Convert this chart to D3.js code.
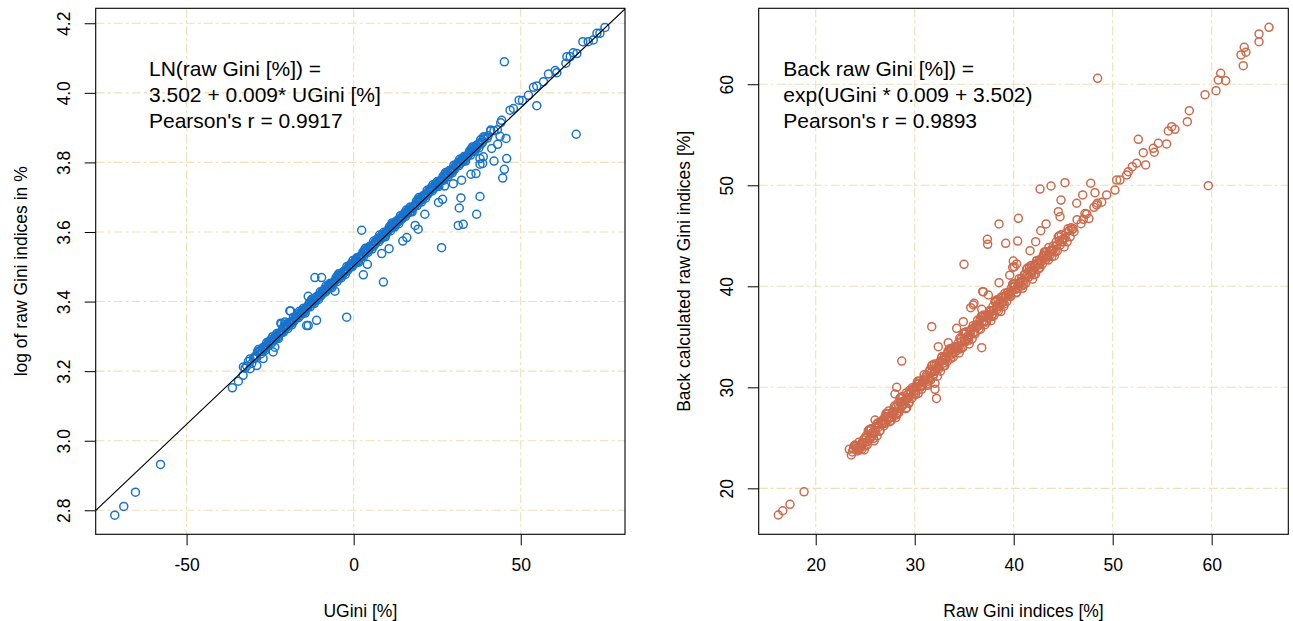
<!DOCTYPE html>
<html>
<head>
<meta charset="utf-8">
<script src="https://cdn.jsdelivr.net/npm/d3@7"></script>
<style>
  body { margin: 0; background: #fff; }
  svg { display: block; font-family: "Liberation Sans", Arial, Helvetica, sans-serif; }
</style>
</head>
<body>
<svg id="chart" width="1293" height="621"></svg>
<script>
// ---- data ----

// left panel: [UGini %, log raw Gini] - dense core band
const leftBandA = [
  [-33,3.212],[-32,3.215],[-31,3.235],[-30,3.236],[-29,3.239],[-28,3.259],[-27,3.262],[-26,3.282],
  [-25,3.285],[-24,3.288],[-23,3.308],[-22,3.309],[-21,3.312],[-20,3.332],[-19,3.335],[-18,3.355],
  [-17,3.357],[-16,3.360],[-15,3.381],[-14,3.382],[-13,3.385],[-12,3.405],[-11,3.408],[-10,3.428],
  [-9,3.430],[-8,3.433],[-7,3.453],[-6,3.454],[-5,3.457],[-4,3.478],[-3,3.481],[-2,3.501],
  [-1,3.503],[0,3.506],[1,3.526],[2,3.527],[3,3.530],[4,3.551],[5,3.554],[6,3.574],
  [7,3.576],[8,3.579],[9,3.599],[10,3.600],[11,3.603],[12,3.624],[13,3.627],[14,3.647],
  [15,3.649],[16,3.652],[17,3.672],[18,3.673],[19,3.676],[20,3.697],[21,3.700],[22,3.720],
  [23,3.722],[24,3.725],[25,3.745],[26,3.746],[27,3.749],[28,3.769],[29,3.772],[30,3.792],
  [31,3.794],[32,3.797],[33,3.817],[34,3.818],[35,3.821],[36,3.842],[37,3.845],[38,3.865],
  [39,3.867],[40,3.870],[41,3.890],[42,3.891],[43,3.894],[44,3.914]
];
const leftBandB = [
  [-32.5,3.208],[-31.5,3.228],[-30.5,3.222],[-29.5,3.242],[-28.5,3.262],[-27.5,3.257],[-26.5,3.260],
  [-25.5,3.281],[-24.5,3.281],[-23.5,3.301],[-22.5,3.294],[-21.5,3.314],[-20.5,3.335],[-19.5,3.330],
  [-18.5,3.333],[-17.5,3.354],[-16.5,3.354],[-15.5,3.374],[-14.5,3.367],[-13.5,3.387],[-12.5,3.407],
  [-11.5,3.402],[-10.5,3.406],[-9.5,3.427],[-8.5,3.427],[-7.5,3.447],[-6.5,3.440],[-5.5,3.460],
  [-4.5,3.480],[-3.5,3.475],[-2.5,3.478],[-1.5,3.499],[-0.5,3.500],[0.5,3.520],[1.5,3.513],
  [2.5,3.533],[3.5,3.553],[4.5,3.548],[5.5,3.551],[6.5,3.572],[7.5,3.572],[8.5,3.592],[9.5,3.586],
  [10.5,3.606],[11.5,3.626],[12.5,3.621],[13.5,3.624],[14.5,3.645],[15.5,3.645],[16.5,3.665],
  [17.5,3.658],[18.5,3.678],[19.5,3.699],[20.5,3.694],[21.5,3.697],[22.5,3.718],[23.5,3.718],
  [24.5,3.738],[25.5,3.731],[26.5,3.751],[27.5,3.771],[28.5,3.766],[29.5,3.770],[30.5,3.791],
  [31.5,3.791],[32.5,3.811],[33.5,3.804],[34.5,3.824],[35.5,3.844],[36.5,3.839],[37.5,3.842],
  [38.5,3.863]
];
const leftBandC = [
  [-29.75,3.238],[-28.75,3.256],[-27.75,3.250],[-26.75,3.270],[-25.75,3.272],[-24.75,3.291],
  [-23.75,3.295],[-22.75,3.297],[-21.75,3.311],[-20.75,3.329],[-19.75,3.322],[-18.75,3.342],
  [-17.75,3.345],[-16.75,3.364],[-15.75,3.368],[-14.75,3.370],[-13.75,3.384],[-12.75,3.402],
  [-11.75,3.395],[-10.75,3.415],[-9.75,3.417],[-8.75,3.436],[-7.75,3.441],[-6.75,3.443],
  [-5.75,3.457],[-4.75,3.475],[-3.75,3.468],[-2.75,3.488],[-1.75,3.490],[-0.75,3.509],
  [0.25,3.513],[1.25,3.515],[2.25,3.530],[3.25,3.548],[4.25,3.541],[5.25,3.561],[6.25,3.563],
  [7.25,3.582],[8.25,3.586],[9.25,3.588],[10.25,3.602],[11.25,3.620],[12.25,3.614],[13.25,3.634],
  [14.25,3.636],[15.25,3.655],[16.25,3.659],[17.25,3.661],[18.25,3.675],[19.25,3.693],[20.25,3.686],
  [21.25,3.706],[22.25,3.709],[23.25,3.728],[24.25,3.732],[25.25,3.734],[26.25,3.748],[27.25,3.766],
  [28.25,3.759],[29.25,3.779],[30.25,3.781],[31.25,3.800],[32.25,3.805],[33.25,3.807],[34.25,3.821],
  [35.25,3.839],[36.25,3.832],[37.25,3.852],[38.25,3.854],[39.25,3.873],[40.25,3.877]
];
const leftBandD = [
  [-27.25,3.267],[-26.25,3.268],[-25.25,3.282],[-24.25,3.299],[-23.25,3.293],[-22.25,3.308],
  [-21.25,3.324],[-20.25,3.324],[-19.25,3.340],[-18.25,3.341],[-17.25,3.355],[-16.25,3.372],
  [-15.25,3.366],[-14.25,3.380],[-13.25,3.396],[-12.25,3.397],[-11.25,3.413],[-10.25,3.414],
  [-9.25,3.428],[-8.25,3.445],[-7.25,3.439],[-6.25,3.453],[-5.25,3.469],[-4.25,3.469],
  [-3.25,3.485],[-2.25,3.487],[-1.25,3.501],[-0.25,3.518],[0.75,3.512],[1.75,3.526],
  [2.75,3.542],[3.75,3.542],[4.75,3.558],[5.75,3.559],[6.75,3.573],[7.75,3.591],[8.75,3.585],
  [9.75,3.599],[10.75,3.615],[11.75,3.615],[12.75,3.631],[13.75,3.632],[14.75,3.646],[15.75,3.663],
  [16.75,3.657],[17.75,3.672],[18.75,3.688],[19.75,3.688],[20.75,3.704],[21.75,3.705],[22.75,3.719],
  [23.75,3.736],[24.75,3.730],[25.75,3.744],[26.75,3.760],[27.75,3.761],[28.75,3.777],[29.75,3.778],
  [30.75,3.792],[31.75,3.809],[32.75,3.803],[33.75,3.817],[34.75,3.833],[35.75,3.833],[36.75,3.849]
];
const leftBandE = [
  [-29.4,3.243],[-28.4,3.255],[-27.4,3.258],[-26.4,3.271],[-25.4,3.284],[-24.4,3.286],[-23.4,3.297],
  [-22.4,3.309],[-21.4,3.312],[-20.4,3.325],[-19.4,3.339],[-18.4,3.341],[-17.4,3.352],[-16.4,3.364],
  [-15.4,3.367],[-14.4,3.380],[-13.4,3.393],[-12.4,3.395],[-11.4,3.406],[-10.4,3.418],[-9.4,3.422],
  [-8.4,3.435],[-7.4,3.448],[-6.4,3.450],[-5.4,3.461],[-4.4,3.473],[-3.4,3.476],[-2.4,3.489],
  [-1.4,3.502],[-0.4,3.504],[0.6,3.516],[1.6,3.528],[2.6,3.531],[3.6,3.544],[4.6,3.557],[5.6,3.559],
  [6.6,3.570],[7.6,3.582],[8.6,3.585],[9.6,3.598],[10.6,3.612],[11.6,3.614],[12.6,3.625],[13.6,3.637],
  [14.6,3.640],[15.6,3.653],[16.6,3.666],[17.6,3.668],[18.6,3.679],[19.6,3.691],[20.6,3.695],
  [21.6,3.708],[22.6,3.721],[23.6,3.723],[24.6,3.734],[25.6,3.746],[26.6,3.749],[27.6,3.762],
  [28.6,3.775],[29.6,3.777],[30.6,3.789],[31.6,3.801],[32.6,3.804],[33.6,3.817],[34.6,3.830],
  [35.6,3.832],[36.6,3.843],[37.6,3.855],[38.6,3.858]
];
// left panel: scattered points and tails
const leftSparse = [
  [-71.5,2.786],[-68.8,2.811],[-65.3,2.852],[-57.8,2.932],[-36.3,3.152],[-34.5,3.171],[-33.1,3.188],
  [-31.0,3.207],[-29.0,3.216],[-27.1,3.236],[-24.1,3.255],[-23.6,3.269],[-21.6,3.336],[-18.9,3.373],
  [-13.6,3.331],[-11.1,3.346],[-14.1,3.331],[-2.1,3.355],[-21.8,3.338],[-20.6,3.341],[-19.1,3.373],
  [-13.6,3.415],[-11.6,3.469],[-9.6,3.469],[-5.6,3.430],[2.4,3.605],[2.9,3.477],[4.1,3.507],
  [8.4,3.538],[8.9,3.456],[10.6,3.552],[14.7,3.574],[15.9,3.584],[18.4,3.619],[19.3,3.608],
  [21.3,3.651],[25.4,3.685],[26.6,3.694],[26.3,3.555],[27.2,3.732],[29.8,3.739],[31.3,3.619],
  [32.8,3.622],[31.6,3.669],[32.1,3.698],[32.3,3.749],[35.1,3.766],[36.6,3.768],[36.8,3.651],
  [37.8,3.702],[37.8,3.795],[38.6,3.797],[37.8,3.811],[38.8,3.816],[41.3,3.840],[42.0,3.804],
  [43.1,3.852],[43.8,3.875],[45.6,3.869],[45.8,3.811],[45.1,3.780],[44.6,3.755],[45.1,4.089],
  [54.8,3.963],[66.6,3.881],
  [38.8,3.873],[41.0,3.893],[44.3,3.921],[46.8,3.950],[47.8,3.955],[49.5,3.979],[50.5,3.978],
  [52.3,3.993],[53.8,4.016],[54.8,4.020],[56.8,4.032],[58.3,4.054],[60.8,4.058],[60.3,4.064],
  [63.5,4.085],[63.8,4.104],[65.7,4.115],[66.8,4.113],[64.8,4.104],[68.6,4.147],[70.2,4.147],
  [71.7,4.152],[72.8,4.171],[73.7,4.171],[75.2,4.188]
];

// right panel: [raw Gini %, back calculated raw Gini %]
const rightBandA = [
  [23.6,23.3],[24.0,24.2],[24.4,23.8],[24.8,24.8],[25.2,24.3],[25.6,25.9],[26.0,25.6],[26.4,26.3],
  [26.8,26.5],[27.2,27.4],[27.6,27.0],[28.0,28.0],[28.4,27.5],[28.8,29.1],[29.2,28.8],[29.6,29.5],
  [30.0,29.7],[30.4,30.6],[30.8,30.2],[31.2,31.2],[31.6,30.7],[32.0,32.3],[32.4,32.0],[32.8,32.7],
  [33.2,32.9],[33.6,33.8],[34.0,33.4],[34.4,34.4],[34.8,33.9],[35.2,35.5],[35.6,35.2],[36.0,35.9],
  [36.4,36.1],[36.8,37.0],[37.2,36.6],[37.6,37.6],[38.0,37.1],[38.4,38.7],[38.8,38.4],[39.2,39.1],
  [39.6,39.3],[40.0,40.2],[40.4,39.8],[40.8,40.8],[41.2,40.3],[41.6,41.9],[42.0,41.6],[42.4,42.3],
  [42.8,42.5],[43.2,43.4],[43.6,43.0],[44.0,44.0],[44.4,43.5],[44.8,45.1],[45.2,44.8],[45.6,45.5],
  [46.0,45.7],[46.4,46.6],[46.8,46.2],[47.2,47.2],[47.6,46.7]
];
const rightBandB = [
  [23.8,23.9],[24.2,23.7],[24.6,24.4],[25.0,24.2],[25.4,25.8],[25.8,25.5],[26.2,25.2],[26.6,26.6],
  [27.0,27.1],[27.4,26.9],[27.8,27.6],[28.2,27.4],[28.6,29.0],[29.0,28.7],[29.4,28.4],[29.8,29.8],
  [30.2,30.3],[30.6,30.1],[31.0,30.8],[31.4,30.6],[31.8,32.2],[32.2,31.9],[32.6,31.6],[33.0,33.0],
  [33.4,33.5],[33.8,33.3],[34.2,34.0],[34.6,33.8],[35.0,35.4],[35.4,35.1],[35.8,34.8],[36.2,36.2],
  [36.6,36.7],[37.0,36.5],[37.4,37.2],[37.8,37.0],[38.2,38.6],[38.6,38.3],[39.0,38.0],[39.4,39.4],
  [39.8,39.9],[40.2,39.7],[40.6,40.4],[41.0,40.2],[41.4,41.8],[41.8,41.5],[42.2,41.2],[42.6,42.6],
  [43.0,43.1],[43.4,42.9],[43.8,43.6],[44.2,43.4],[44.6,45.0],[45.0,44.7],[45.4,44.4],[45.8,45.8]
];
const rightBandC = [
  [23.7,23.6],[24.1,24.2],[24.5,24.3],[24.9,23.8],[25.3,25.7],[25.7,25.2],[26.1,26.1],[26.5,25.7],
  [26.9,26.2],[27.3,27.4],[27.7,27.5],[28.1,27.0],[28.5,28.9],[28.9,28.4],[29.3,29.3],[29.7,28.9],
  [30.1,29.4],[30.5,30.6],[30.9,30.7],[31.3,30.2],[31.7,32.1],[32.1,31.6],[32.5,32.5],[32.9,32.1],
  [33.3,32.6],[33.7,33.8],[34.1,33.9],[34.5,33.4],[34.9,35.3],[35.3,34.8],[35.7,35.7],[36.1,35.3],
  [36.5,35.8],[36.9,37.0],[37.3,37.1],[37.7,36.6],[38.1,38.5],[38.5,38.0],[38.9,38.9],[39.3,38.5],
  [39.7,39.0],[40.1,40.2],[40.5,40.3],[40.9,39.8],[41.3,41.7],[41.7,41.2],[42.1,42.1],[42.5,41.7],
  [42.9,42.2],[43.3,43.4],[43.7,43.5],[44.1,43.0],[44.5,44.9],[44.9,44.4],[45.3,45.3],[45.7,44.9],
  [46.1,45.4]
];
const rightBandD = [
  [23.9,24.2],[24.3,23.9],[24.7,24.3],[25.1,25.2],[25.5,24.9],[25.9,24.7],[26.3,26.5],[26.7,26.4],
  [27.1,27.4],[27.5,26.6],[27.9,27.5],[28.3,28.4],[28.7,28.1],[29.1,27.9],[29.5,29.7],[29.9,29.6],
  [30.3,30.6],[30.7,29.8],[31.1,30.7],[31.5,31.6],[31.9,31.3],[32.3,31.1],[32.7,32.9],[33.1,32.8],
  [33.5,33.8],[33.9,33.0],[34.3,33.9],[34.7,34.8],[35.1,34.5],[35.5,34.3],[35.9,36.1],[36.3,36.0],
  [36.7,37.0],[37.1,36.2],[37.5,37.1],[37.9,38.0],[38.3,37.7],[38.7,37.5],[39.1,39.3],[39.5,39.2],
  [39.9,40.2],[40.3,39.4],[40.7,40.3],[41.1,41.2],[41.5,40.9],[41.9,40.7],[42.3,42.5],[42.7,42.4],
  [43.1,43.4],[43.5,42.6],[43.9,43.5],[44.3,44.4],[44.7,44.1],[45.1,43.9],[45.5,45.7],[45.9,45.6]
];
const rightBandE = [
  [24.2,24.0],[24.5,24.1],[24.8,24.5],[25.1,25.0],[25.4,24.9],[25.7,25.5],[26.0,25.6],[26.3,26.0],
  [26.6,26.5],[26.9,26.4],[27.2,27.0],[27.5,27.1],[27.8,27.5],[28.1,28.0],[28.4,27.9],[28.7,28.5],
  [29.0,28.6],[29.3,29.0],[29.6,29.5],[29.9,29.4],[30.2,30.0],[30.5,30.1],[30.8,30.5],[31.1,31.0],
  [31.4,30.9],[31.7,31.5],[32.0,31.6],[32.3,32.0],[32.6,32.5],[32.9,32.4],[33.2,33.0],[33.5,33.1],
  [33.8,33.5],[34.1,34.0],[34.4,33.9],[34.7,34.5],[35.0,34.6],[35.3,35.0],[35.6,35.5],[35.9,35.4],
  [36.2,36.0],[36.5,36.1],[36.8,36.5],[37.1,37.0],[37.4,36.9],[37.7,37.5],[38.0,37.6],[38.3,38.0],
  [38.6,38.5],[38.9,38.4],[39.2,39.0],[39.5,39.1],[39.8,39.5],[40.1,40.0],[40.4,39.9],[40.7,40.5],
  [41.0,40.6],[41.3,41.0],[41.6,41.5],[41.9,41.4],[42.2,42.0],[42.5,42.1],[42.8,42.5],[43.1,43.0],
  [43.4,42.9],[43.7,43.5],[44.0,43.6],[44.3,44.0],[44.6,44.5],[44.9,44.4]
];
const rightBandF = [
  [24.35,24.55],[24.65,23.85],[24.95,24.95],[25.25,24.65],[25.55,25.85],[25.85,24.95],[26.15,26.35],
  [26.45,25.65],[26.75,26.75],[27.05,26.45],[27.35,27.65],[27.65,26.75],[27.95,28.15],[28.25,27.45],
  [28.55,28.55],[28.85,28.25],[29.15,29.45],[29.45,28.55],[29.75,29.95],[30.05,29.25],[30.35,30.35],
  [30.65,30.05],[30.95,31.25],[31.25,30.35],[31.55,31.75],[31.85,31.05],[32.15,32.15],[32.45,31.85],
  [32.75,33.05],[33.05,32.15],[33.35,33.55],[33.65,32.85],[33.95,33.95],[34.25,33.65],[34.55,34.85],
  [34.85,33.95],[35.15,35.35],[35.45,34.65],[35.75,35.75],[36.05,35.45],[36.35,36.65],[36.65,35.75],
  [36.95,37.15],[37.25,36.45],[37.55,37.55],[37.85,37.25],[38.15,38.45],[38.45,37.55],[38.75,38.95],
  [39.05,38.25],[39.35,39.35],[39.65,39.05],[39.95,40.25],[40.25,39.35],[40.55,40.75],[40.85,40.05],
  [41.15,41.15],[41.45,40.85],[41.75,42.05],[42.05,41.15],[42.35,42.55],[42.65,41.85],[42.95,42.95],
  [43.25,42.65],[43.55,43.85],[43.85,42.95]
];
const rightSparse = [
  [16.22,17.36],[16.67,17.78],[17.40,18.42],[18.82,19.66],[23.39,23.86],[23.97,24.29],[28.69,32.60],
  [28.18,30.0],[28.01,29.34],[28.18,27.26],[29.19,27.98],[30.36,29.41],[32.05,29.80],[32.05,30.40],
  [31.72,36.0],[32.38,34.02],[33.39,34.42],[34.24,35.84],[34.91,36.50],[35.92,38.15],[34.98,42.18],
  [35.66,37.88],[35.99,38.32],[36.77,37.72],[36.87,39.47],[37.44,39.14],[38.52,40.36],[39.90,41.88],
  [40.30,42.21],[36.77,33.92],[26.0,26.76],[37.34,44.65],[37.37,44.16],[38.52,46.17],[39.19,44.26],
  [40.40,44.48],[40.47,46.73],[42.22,44.42],[41.65,43.53],[42.66,49.63],[43.77,49.93],[45.18,50.26],
  [42.73,45.50],[43.27,46.17],[44.78,48.54],[44.51,47.39],[44.68,46.89],[46.36,48.22],[46.97,49.04],
  [47.78,50.20],[48.21,49.27],[48.38,48.05],[48.89,48.32],[49.39,49.04],[50.23,49.53],[50.40,50.52],
  [50.74,50.52],[51.41,51.02],[51.58,51.35],[51.98,51.84],[52.42,52.18],[53.33,52.01],[53.09,53.23],
  [52.59,54.55],[54.10,53.66],[54.2,53.27],[54.61,54.16],[55.45,54.09],[55.62,55.38],[55.96,55.80],
  [56.29,55.54],[57.54,56.30],[57.74,57.39],[59.33,58.97],[60.44,59.37],[60.67,60.43],[60.91,61.09],
  [61.41,60.36],[63.19,61.84],[62.96,62.90],[63.46,63.17],[63.29,63.66],[64.78,64.22],[64.78,64.98],
  [65.79,65.64],[48.48,60.59],[59.66,49.96],[40.06,41.94],[39.96,42.50],[36.93,39.47],[39.6,41.1],
  [32.2,28.9],[48.45,48.22],[48.11,47.82],[47.37,47.16],[47.03,46.63]
];

// axes / ticks
const leftXTicks = [-50, 0, 50];
const leftYTicks = [2.8, 3.0, 3.2, 3.4, 3.6, 3.8, 4.0, 4.2];
const rightXTicks = [20, 30, 40, 50, 60];
const rightYTicks = [20, 30, 40, 50, 60];

// regression: LN(raw) = 3.502 + 0.009 * UGini
const fitIntercept = 3.502;
const fitSlope = 0.0091;

const leftNotes = ["LN(raw Gini [%]) =", "3.502 + 0.009* UGini [%]", "Pearson's r = 0.9917"];
const rightNotes = ["Back raw Gini [%]) =", "exp(UGini * 0.009 + 3.502)", "Pearson's r = 0.9893"];

const COLORS = {
  blue: '#1874CD',
  orange: '#CD6A4C',
  grid: '#eedfb9',
  text: '#000'
};

const svg = d3.select('#chart');

function drawPanel(opts) {
  const g = svg.append('g');
  const x = d3.scaleLinear().domain(opts.xDomain).range([opts.left, opts.right]);
  const y = d3.scaleLinear().domain(opts.yDomain).range([opts.bottom, opts.top]);

  const clipId = 'clip-' + opts.name;
  svg.append('clipPath').attr('id', clipId)
    .append('rect')
    .attr('x', opts.left).attr('y', opts.top)
    .attr('width', opts.right - opts.left).attr('height', opts.bottom - opts.top);

  // grid (R style dot-dash)
  const grid = g.append('g').attr('clip-path', `url(#${clipId})`);
  grid.selectAll('line.gx').data(opts.xTicks).join('line')
    .attr('x1', d => x(d)).attr('x2', d => x(d))
    .attr('y1', opts.top).attr('y2', opts.bottom)
    .attr('stroke', COLORS.grid).attr('stroke-width', 1.1)
    .attr('stroke-dasharray', '9,3,3,3');
  grid.selectAll('line.gy').data(opts.yTicks).join('line')
    .attr('x1', opts.left).attr('x2', opts.right)
    .attr('y1', d => y(d)).attr('y2', d => y(d))
    .attr('stroke', COLORS.grid).attr('stroke-width', 1.1)
    .attr('stroke-dasharray', '9,3,3,3');

  // points
  const pts = g.append('g').attr('clip-path', `url(#${clipId})`);
  pts.selectAll('circle').data(opts.points).join('circle')
    .attr('cx', d => x(d[0])).attr('cy', d => y(d[1]))
    .attr('r', 4)
    .attr('fill', 'none')
    .attr('stroke', opts.color)
    .attr('stroke-width', 1.5);

  if (opts.fit) {
    const xs = x.domain();
    g.append('line')
      .attr('clip-path', `url(#${clipId})`)
      .attr('x1', x(xs[0])).attr('y1', y(opts.fit(xs[0])))
      .attr('x2', x(xs[1])).attr('y2', y(opts.fit(xs[1])))
      .attr('stroke', '#000').attr('stroke-width', 1.1);
  }

  // axes
  const xAxis = d3.axisBottom(x).tickValues(opts.xTicks).tickSize(11).tickPadding(13)
    .tickFormat(opts.xFormat);
  const gx = g.append('g').attr('transform', `translate(0,${opts.bottom})`).call(xAxis);
  gx.select('.domain').remove();
  gx.selectAll('line').attr('stroke', '#000');
  gx.selectAll('text').style('font-size', '17.5px').attr('fill', COLORS.text)
    .attr('font-family', '"Liberation Sans", Arial, sans-serif');

  const yAxis = d3.axisLeft(y).tickValues(opts.yTicks).tickSize(11).tickFormat(opts.yFormat);
  const gy = g.append('g').attr('transform', `translate(${opts.left},0)`).call(yAxis);
  gy.select('.domain').remove();
  gy.selectAll('line').attr('stroke', '#000');
  gy.selectAll('text')
    .attr('x', 0).attr('dy', 0).attr('y', 0)
    .attr('transform', 'translate(-26,0) rotate(-90)')
    .attr('text-anchor', 'middle')
    .style('font-size', '17.5px').attr('fill', COLORS.text)
    .attr('font-family', '"Liberation Sans", Arial, sans-serif');

  // frame
  g.append('rect')
    .attr('x', opts.left).attr('y', opts.top)
    .attr('width', opts.right - opts.left).attr('height', opts.bottom - opts.top)
    .attr('fill', 'none').attr('stroke', '#000').attr('stroke-width', 1.1);

  // axis titles
  g.append('text')
    .attr('x', (opts.left + opts.right) / 2).attr('y', 616.5)
    .attr('text-anchor', 'middle')
    .style('font-size', '17.5px')
    .text(opts.xTitle);
  g.append('text')
    .attr('transform', `translate(${opts.left - 69},${(opts.top + opts.bottom) / 2}) rotate(-90)`)
    .attr('text-anchor', 'middle')
    .style('font-size', '17.5px')
    .text(opts.yTitle);

  // annotation
  g.append('g').selectAll('text').data(opts.notes).join('text')
    .attr('x', opts.noteX).attr('y', (d, i) => 76 + i * 26)
    .style('font-size', '21px')
    .text(d => d);
}

drawPanel({
  name: 'left',
  left: 95.7, right: 625, top: 8.3, bottom: 534.3,
  xDomain: [-77.2, 81.2], yDomain: [2.731, 4.243],
  xTicks: leftXTicks, yTicks: leftYTicks,
  xFormat: d => d3.format('d')(d).replace('\u2212', '-'),
  yFormat: d3.format('.1f'),
  points: leftSparse.concat(leftBandA, leftBandB, leftBandC, leftBandD, leftBandE),
  color: COLORS.blue,
  fit: u => fitIntercept + fitSlope * u,
  xTitle: 'UGini [%]',
  yTitle: 'log of raw Gini indices in %',
  notes: leftNotes, noteX: 149
});

drawPanel({
  name: 'right',
  left: 758.7, right: 1288.3, top: 8.3, bottom: 534.3,
  xDomain: [14.24, 67.74], yDomain: [15.45, 67.52],
  xTicks: rightXTicks, yTicks: rightYTicks,
  xFormat: d3.format('d'),
  yFormat: d3.format('d'),
  points: rightSparse.concat(rightBandA, rightBandB, rightBandC, rightBandD, rightBandE, rightBandF),
  color: COLORS.orange,
  fit: null,
  xTitle: 'Raw Gini indices [%]',
  yTitle: 'Back calculated raw Gini indices [%]',
  notes: rightNotes, noteX: 783.3
});
</script>
</body>
</html>
